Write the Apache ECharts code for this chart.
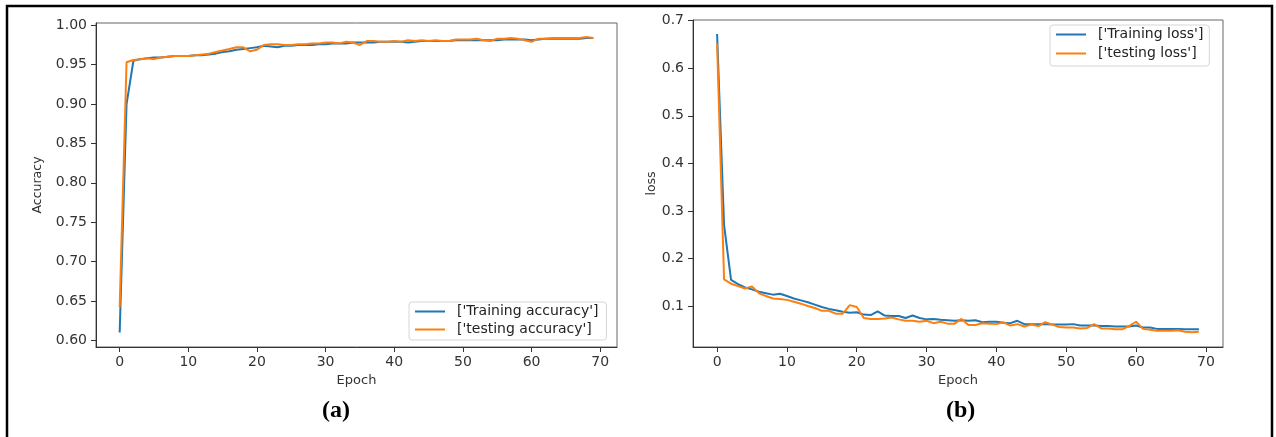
<!DOCTYPE html>
<html>
	<head>
		<meta charset="utf-8" />
		<title>Accuracy / loss</title>
		<script src="https://cdn.jsdelivr.net/npm/echarts@6/dist/echarts.min.js"></script>
		<style>
			body { margin: 0; background: #fff; }
		</style>
	</head>
	<body>
		<div id="main" style="width: 1276px; height: 437px;"></div>
		<script>
		// epochs 0..69
		var epochs = [];
		for (var i = 0; i < 70; i++) { epochs.push(i); }

		var trainAcc = [0.610, 0.900, 0.955, 0.957, 0.958, 0.959, 0.959, 0.960, 0.961, 0.961,
			0.961, 0.962, 0.962, 0.963, 0.964, 0.966, 0.967, 0.969, 0.970, 0.971,
			0.972, 0.974, 0.973, 0.972, 0.974, 0.974, 0.975, 0.975, 0.975, 0.976,
			0.976, 0.977, 0.977, 0.977, 0.978, 0.978, 0.978, 0.978, 0.979, 0.979,
			0.979, 0.979, 0.978, 0.979, 0.980, 0.980, 0.980, 0.980, 0.980, 0.981,
			0.981, 0.981, 0.981, 0.981, 0.981, 0.981, 0.982, 0.982, 0.982, 0.982,
			0.981, 0.982, 0.983, 0.983, 0.983, 0.983, 0.983, 0.983, 0.984, 0.984];
		var testAcc = [0.642, 0.953, 0.956, 0.957, 0.958, 0.957, 0.959, 0.960, 0.961, 0.961,
			0.961, 0.962, 0.963, 0.964, 0.966, 0.968, 0.970, 0.972, 0.972, 0.967,
			0.969, 0.975, 0.976, 0.976, 0.975, 0.975, 0.976, 0.976, 0.977, 0.977,
			0.978, 0.978, 0.977, 0.979, 0.978, 0.975, 0.980, 0.980, 0.979, 0.979,
			0.980, 0.979, 0.981, 0.980, 0.981, 0.980, 0.981, 0.980, 0.980, 0.982,
			0.982, 0.982, 0.983, 0.981, 0.980, 0.983, 0.983, 0.984, 0.983, 0.981,
			0.979, 0.983, 0.983, 0.984, 0.984, 0.984, 0.984, 0.984, 0.985, 0.984];
		var trainLoss = [0.672, 0.270, 0.155, 0.146, 0.139, 0.135, 0.130, 0.127, 0.124, 0.126,
			0.121, 0.116, 0.112, 0.108, 0.103, 0.098, 0.094, 0.091, 0.088, 0.086,
			0.087, 0.082, 0.081, 0.089, 0.080, 0.079, 0.079, 0.075, 0.080, 0.075,
			0.072, 0.073, 0.071, 0.070, 0.069, 0.070, 0.069, 0.070, 0.066, 0.067,
			0.067, 0.065, 0.064, 0.069, 0.062, 0.062, 0.062, 0.062, 0.061, 0.061,
			0.061, 0.062, 0.059, 0.059, 0.059, 0.058, 0.058, 0.057, 0.057, 0.057,
			0.059, 0.055, 0.055, 0.052, 0.052, 0.052, 0.052, 0.051, 0.051, 0.051];
		var testLoss = [0.652, 0.156, 0.147, 0.142, 0.137, 0.141, 0.127, 0.121, 0.116, 0.115,
			0.113, 0.109, 0.105, 0.100, 0.096, 0.090, 0.090, 0.084, 0.084, 0.102,
			0.098, 0.075, 0.073, 0.073, 0.074, 0.076, 0.072, 0.069, 0.069, 0.067,
			0.069, 0.064, 0.067, 0.063, 0.063, 0.073, 0.060, 0.060, 0.064, 0.063,
			0.062, 0.066, 0.059, 0.062, 0.057, 0.061, 0.058, 0.066, 0.061, 0.056,
			0.055, 0.055, 0.053, 0.054, 0.062, 0.053, 0.053, 0.051, 0.051, 0.058,
			0.067, 0.052, 0.050, 0.048, 0.048, 0.048, 0.049, 0.046, 0.045, 0.046];

		var xTicks = [0, 10, 20, 30, 40, 50, 60, 70];
		var accTicks = [0.60, 0.65, 0.70, 0.75, 0.80, 0.85, 0.90, 0.95, 1.00];
		var lossTicks = [0.1, 0.2, 0.3, 0.4, 0.5, 0.6, 0.7];

		var blue = '#1f77b4', orange = '#ff7f0e';
		var font = 'DejaVu Sans';

		function pairs(ys) {
			return epochs.map(function (e, i) { return [e, ys[i]]; });
		}

		function xAxisOf(idx) {
			return {
				type: 'value', gridIndex: idx, min: -3.45, max: 72.45,
				name: 'Epoch', nameLocation: 'middle', nameGap: 24,
				nameTextStyle: { fontFamily: font, fontSize: 13, color: '#333' },
				axisLine: { show: true, onZero: false, lineStyle: { color: '#333', width: 1 } },
				axisTick: { show: true, length: 5, customValues: xTicks, lineStyle: { color: '#333' } },
				axisLabel: { customValues: xTicks, margin: 8, fontFamily: font, fontSize: 14, color: '#333' },
				splitLine: { show: false }
			};
		}

		function yAxisOf(idx, name, min, max, ticks, digits, gap) {
			return {
				type: 'value', gridIndex: idx, min: min, max: max,
				name: name, nameLocation: 'middle', nameGap: gap,
				nameTextStyle: { fontFamily: font, fontSize: 12.5, color: '#333' },
				axisLine: { show: true, onZero: false, lineStyle: { color: '#333', width: 1 } },
				axisTick: { show: true, length: 5, customValues: ticks, lineStyle: { color: '#333' } },
				axisLabel: {
					customValues: ticks, margin: 9, fontFamily: font, fontSize: 14, color: '#333',
					formatter: function (v) { return v.toFixed(digits); }
				},
				splitLine: { show: false }
			};
		}

		function line(name, idx, ys, color, z) {
			return {
				name: name, type: 'line', xAxisIndex: idx, yAxisIndex: idx,
				data: pairs(ys), symbol: 'none', z: z,
				lineStyle: { color: color, width: 2 }, itemStyle: { color: color },
				animation: false
			};
		}

		var legendBase = {
			orient: 'vertical', icon: 'rect', itemWidth: 30, itemHeight: 2,
			backgroundColor: '#fff', borderColor: '#d6d6d6', borderWidth: 1, borderRadius: 3,
			textStyle: { fontFamily: font, fontSize: 14, lineHeight: 17, color: '#222', padding: [0, 0, 0, 7] }
		};

		var myChart = echarts.init(document.getElementById('main'));
		var option = {
			backgroundColor: '#fff',
			animation: false,
			grid: [
				{ left: 96, top: 23, width: 521, height: 324, show: true, borderColor: '#666', borderWidth: 1 },
				{ left: 693, top: 20, width: 530, height: 327, show: true, borderColor: '#666', borderWidth: 1 }
			],
			xAxis: [xAxisOf(0), xAxisOf(1)],
			yAxis: [
				yAxisOf(0, 'Accuracy', 0.5915, 1.0029, accTicks, 2, 52),
				yAxisOf(1, 'loss', 0.0139, 0.7015, lossTicks, 1, 14)
			],
			legend: [
				Object.assign({}, legendBase, {
					left: 409, top: 302, itemGap: 1, padding: [1, 8, 2, 6],
					data: ["['Training accuracy']", "['testing accuracy']"]
				}),
				Object.assign({}, legendBase, {
					left: 1050, top: 25, itemGap: 2, padding: [1, 6, 4, 6],
					data: ["['Training loss']", "['testing loss']"]
				})
			],
			title: [
				{ text: '(a)', left: 322, top: 399, padding: 0, textStyle: { fontFamily: 'Liberation Serif', fontWeight: 'bold', fontSize: 24, color: '#000' } },
				{ text: '(b)', left: 946, top: 399, padding: 0, textStyle: { fontFamily: 'Liberation Serif', fontWeight: 'bold', fontSize: 24, color: '#000' } }
			],
			graphic: [
				{ type: 'rect', shape: { x: 7, y: 6, width: 1265, height: 445 }, style: { fill: 'none', stroke: '#000', lineWidth: 2.5 }, silent: true }
			],
			series: [
				line("['Training accuracy']", 0, trainAcc, blue, 2),
				line("['testing accuracy']", 0, testAcc, orange, 3),
				line("['Training loss']", 1, trainLoss, blue, 2),
				line("['testing loss']", 1, testLoss, orange, 3)
			]
		};
		myChart.setOption(option);
		</script>
	</body>
</html>
